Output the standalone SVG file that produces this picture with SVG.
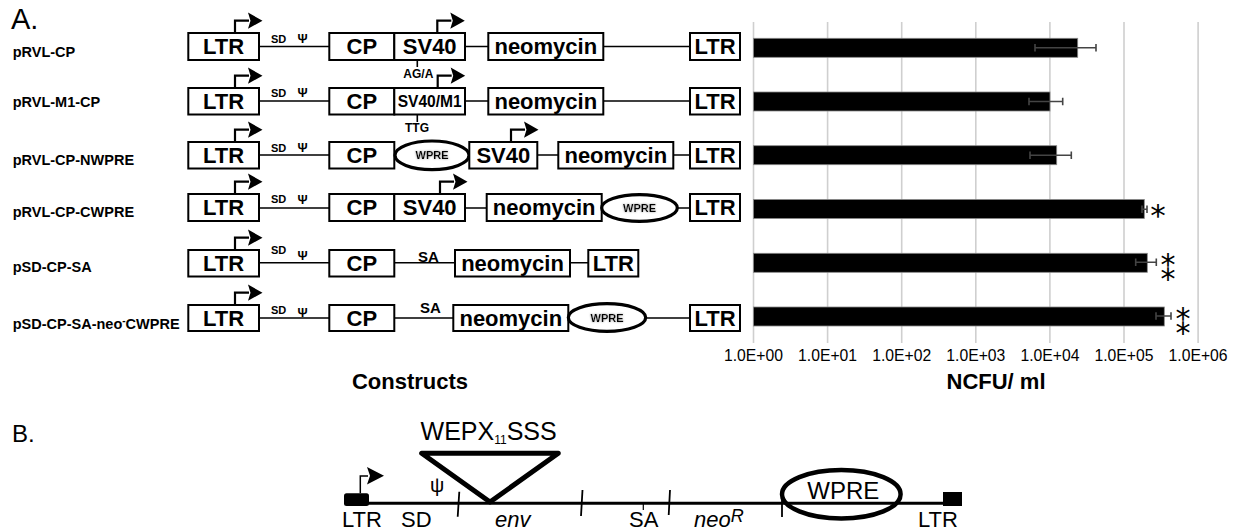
<svg xmlns="http://www.w3.org/2000/svg" width="1238" height="530" viewBox="0 0 1238 530">
<style>
text{font-family:"Liberation Sans",Arial,sans-serif;fill:#000}
.box{fill:#fff;stroke:#000;stroke-width:2}
.oval{fill:#fff;stroke:#000;stroke-width:3.2}
.ln{stroke:#000;stroke-width:1.6;fill:none}
.name{font-size:14.5px;font-weight:bold}
.el{font-size:22px;font-weight:bold;text-anchor:middle}
.el16{font-size:16px;font-weight:bold;text-anchor:middle}
.sm{font-size:11px;font-weight:bold}
.psi{font-size:12.5px;font-weight:bold}
.mut{font-size:12px;font-weight:bold}
.wp{font-size:11px;font-weight:bold;text-anchor:middle;filter:url(#halo)}
.grid{stroke:#cfcfcf;stroke-width:1.6}
.bar{fill:#000;stroke:#888;stroke-width:0.8}
.err{stroke:#444;stroke-width:1.6;fill:none}
.tick{font-size:17px;text-anchor:middle}
.ast{font-family:"DejaVu Sans",sans-serif;font-size:31px;text-anchor:middle}
.ast2{font-family:"DejaVu Sans",sans-serif;font-size:30px;text-anchor:middle}
.axis{font-size:22px;font-weight:bold;text-anchor:middle}
.b{font-size:22px}
.thick{stroke:#000;stroke-width:3;fill:none}
</style>
<defs>
<filter id="halo" x="-20%" y="-50%" width="140%" height="200%">
<feGaussianBlur in="SourceAlpha" stdDeviation="1.2" result="blur"/>
<feFlood flood-color="#999" result="c"/>
<feComposite in="c" in2="blur" operator="in" result="shadow"/>
<feMerge><feMergeNode in="shadow"/><feMergeNode in="SourceGraphic"/></feMerge>
</filter>
<g id="prom">
<path d="M0,0 V-12.3 H14" fill="none" stroke="#000" stroke-width="2.2"/>
<path d="M13,-20.5 L27.5,-12.3 L13,-4.3 L15.5,-12.3 Z" fill="#000"/>
</g>
</defs>

<!-- panel letters and axis titles -->
<text x="11" y="29.3" font-size="29">A.</text>
<text x="12" y="441.7" font-size="24">B.</text>
<text class="axis" x="410" y="389">Constructs</text>
<text class="axis" x="996" y="389">NCFU/ ml</text>

<!-- construct names -->
<g id="names">
<text class="name" x="12.7" y="57.3">pRVL-CP</text>
<text class="name" x="12.7" y="106.7">pRVL-M1-CP</text>
<text class="name" x="12.7" y="165">pRVL-CP-NWPRE</text>
<text class="name" x="12.7" y="216.7">pRVL-CP-CWPRE</text>
<text class="name" x="12.7" y="271.7">pSD-CP-SA</text>
<text class="name" x="12.7" y="328.5">pSD-CP-SA-neo<tspan font-size="10" dy="-5">-</tspan><tspan dy="5">CWPRE</tspan></text>
</g>

<!-- connectors between elements -->
<g id="connectors">
<path class="ln" d="M259,46.5 H329.3 M465,46.5 H488.3 M603.3,46.5 H690"/>
<path class="ln" d="M259,101 H329.3 M465,101 H488.3 M603.3,101 H690"/>
<path class="ln" d="M259,155 H329.3 M537.3,155 H558.3 M673.3,155 H690"/>
<path class="ln" d="M259,208 H329.3 M465,208 H486.7 M677.3,208 H690"/>
<path class="ln" d="M259,262.8 H329.3 M394.3,262.8 H455 M570,262.8 H588.3"/>
<path class="ln" d="M259,318 H329.3 M394.3,318 H453.3 M645.7,318 H690"/>
<path class="ln" d="M417.3,60 V67 M417.3,114.5 V122"/>
</g>

<!-- row 1: pRVL-CP -->
<g id="r1">
<g id="r1-ltr5"><rect class="box" x="188.3" y="33" width="70.7" height="27"/><text class="el" x="223.6" y="54.4">LTR</text><use href="#prom" x="235" y="33"/></g>
<text class="sm" x="271" y="42.7">SD</text><text class="psi" x="297.5" y="43">Ψ</text>
<g id="r1-cp"><rect class="box" x="329.3" y="33" width="65" height="27"/><text class="el" x="361.8" y="54.4">CP</text></g>
<g id="r1-sv40"><rect class="box" x="394.3" y="33" width="70.7" height="27"/><text class="el" x="429.7" y="54.4">SV40</text><use href="#prom" x="437.3" y="33"/></g>
<text class="mut" x="403.3" y="77.5">AG/A</text>
<g id="r1-neo"><rect class="box" x="488.3" y="33" width="115" height="27"/><text class="el" x="545.8" y="54.4">neomycin</text></g>
<g id="r1-ltr3"><rect class="box" x="690" y="33" width="50" height="27"/><text class="el" x="715" y="54.4">LTR</text></g>
</g>

<!-- row 2: pRVL-M1-CP -->
<g id="r2">
<g id="r2-ltr5"><rect class="box" x="188.3" y="88" width="70.7" height="26.5"/><text class="el" x="223.6" y="109.1">LTR</text><use href="#prom" x="235" y="88"/></g>
<text class="sm" x="271" y="96.7">SD</text><text class="psi" x="297.5" y="97">Ψ</text>
<g id="r2-cp"><rect class="box" x="329.3" y="88" width="65" height="26.5"/><text class="el" x="361.8" y="109.1">CP</text></g>
<g id="r2-sv40m1"><rect class="box" x="394.3" y="88" width="70.7" height="26.5"/><text class="el16" x="429.7" y="107" textLength="64" lengthAdjust="spacingAndGlyphs">SV40/M1</text><use href="#prom" x="437.7" y="88"/></g>
<text class="mut" x="405" y="132">TTG</text>
<g id="r2-neo"><rect class="box" x="488.3" y="88" width="115" height="26.5"/><text class="el" x="545.8" y="109.1">neomycin</text></g>
<g id="r2-ltr3"><rect class="box" x="690" y="88" width="50" height="26.5"/><text class="el" x="715" y="109.1">LTR</text></g>
</g>

<!-- row 3: pRVL-CP-NWPRE -->
<g id="r3">
<g id="r3-ltr5"><rect class="box" x="188.3" y="142" width="70.7" height="26.5"/><text class="el" x="223.6" y="163.1">LTR</text><use href="#prom" x="235" y="142"/></g>
<text class="sm" x="271" y="151.7">SD</text><text class="psi" x="297.5" y="152">Ψ</text>
<g id="r3-cp"><rect class="box" x="329.3" y="142" width="65" height="26.5"/><text class="el" x="361.8" y="163.1">CP</text></g>
<g id="r3-wpre"><ellipse class="oval" cx="432" cy="155.3" rx="37" ry="14.3"/><text class="wp" x="432" y="159.3">WPRE</text></g>
<g id="r3-sv40"><rect class="box" x="469.3" y="142" width="68" height="26.5"/><text class="el" x="503.3" y="163.1">SV40</text><use href="#prom" x="511" y="142"/></g>
<g id="r3-neo"><rect class="box" x="558.3" y="142" width="115" height="26.5"/><text class="el" x="615.8" y="163.1">neomycin</text></g>
<g id="r3-ltr3"><rect class="box" x="690" y="142" width="50" height="26.5"/><text class="el" x="715" y="163.1">LTR</text></g>
</g>

<!-- row 4: pRVL-CP-CWPRE -->
<g id="r4">
<g id="r4-ltr5"><rect class="box" x="188.3" y="194" width="70.7" height="27"/><text class="el" x="223.6" y="215.4">LTR</text><use href="#prom" x="235" y="194"/></g>
<text class="sm" x="271" y="203.3">SD</text><text class="psi" x="297.5" y="203.6">Ψ</text>
<g id="r4-cp"><rect class="box" x="329.3" y="194" width="65" height="27"/><text class="el" x="361.8" y="215.4">CP</text></g>
<g id="r4-sv40"><rect class="box" x="394.3" y="194" width="70.7" height="27"/><text class="el" x="429.7" y="215.4">SV40</text><use href="#prom" x="440" y="194"/></g>
<g id="r4-neo"><rect class="box" x="486.7" y="194" width="115" height="27"/><text class="el" x="544.2" y="215.4">neomycin</text></g>
<g id="r4-wpre"><ellipse class="oval" cx="639.5" cy="208" rx="37.8" ry="13.3"/><text class="wp" x="639.5" y="212">WPRE</text></g>
<g id="r4-ltr3"><rect class="box" x="690" y="194" width="50" height="27"/><text class="el" x="715" y="215.4">LTR</text></g>
</g>

<!-- row 5: pSD-CP-SA -->
<g id="r5">
<g id="r5-ltr5"><rect class="box" x="188.3" y="250" width="70.7" height="26.5"/><text class="el" x="223.6" y="271.1">LTR</text><use href="#prom" x="235" y="250"/></g>
<text class="sm" x="271" y="253.5">SD</text><text class="psi" x="297.5" y="260">Ψ</text>
<g id="r5-cp"><rect class="box" x="329.3" y="250" width="65" height="26.5"/><text class="el" x="361.8" y="271.1">CP</text></g>
<text x="418" y="261.5" font-size="15" font-weight="bold">SA</text>
<g id="r5-neo"><rect class="box" x="455" y="250" width="115" height="26.5"/><text class="el" x="512.5" y="271.1">neomycin</text></g>
<g id="r5-ltr3"><rect class="box" x="588.3" y="250" width="50" height="26.5"/><text class="el" x="613.3" y="271.1">LTR</text></g>
</g>

<!-- row 6: pSD-CP-SA-neo- CWPRE -->
<g id="r6">
<g id="r6-ltr5"><rect class="box" x="188.3" y="305" width="70.7" height="26"/><text class="el" x="223.6" y="325.9">LTR</text><use href="#prom" x="235" y="305"/></g>
<text class="sm" x="271" y="314">SD</text><text class="psi" x="297.5" y="316.5">Ψ</text>
<g id="r6-cp"><rect class="box" x="329.3" y="305" width="65" height="26"/><text class="el" x="361.8" y="325.9">CP</text></g>
<text x="420" y="313.3" font-size="15" font-weight="bold">SA</text>
<g id="r6-neo"><rect class="box" x="453.3" y="305" width="115" height="26"/><text class="el" x="510.8" y="325.9">neomycin</text></g>
<g id="r6-wpre"><ellipse class="oval" cx="607" cy="317.5" rx="38.7" ry="13.8"/><text class="wp" x="607" y="321.5">WPRE</text></g>
<g id="r6-ltr3"><rect class="box" x="690" y="305" width="50" height="26"/><text class="el" x="715" y="325.9">LTR</text></g>
</g>

<!-- titre chart (log scale, 74.1 px per decade) -->
<g id="chart">
<g id="gridlines">
<line class="grid" x1="753.5" y1="22" x2="753.5" y2="343"/>
<line class="grid" x1="827.6" y1="22" x2="827.6" y2="343"/>
<line class="grid" x1="901.7" y1="22" x2="901.7" y2="343"/>
<line class="grid" x1="975.8" y1="22" x2="975.8" y2="343"/>
<line class="grid" x1="1049.9" y1="22" x2="1049.9" y2="343"/>
<line class="grid" x1="1124" y1="22" x2="1124" y2="343"/>
<line class="grid" x1="1198.1" y1="22" x2="1198.1" y2="343"/>
</g>
<g id="bars">
<rect class="bar" x="753.5" y="38.3" width="324.2" height="19"/>
<rect class="bar" x="753.5" y="92" width="296.5" height="19"/>
<rect class="bar" x="753.5" y="145.7" width="303.2" height="19"/>
<rect class="bar" x="753.5" y="199.5" width="390.8" height="19"/>
<rect class="bar" x="753.5" y="253.3" width="393.8" height="19"/>
<rect class="bar" x="753.5" y="307" width="410.8" height="19"/>
</g>
<g id="errorbars">
<path class="err" d="M1035,47.7 H1096 M1035,44 V51.4 M1096,44 V51.4"/>
<path class="err" d="M1029,101.5 H1062.7 M1029,97.8 V105.2 M1062.7,97.8 V105.2"/>
<path class="err" d="M1030,155.3 H1071.3 M1030,151.6 V159 M1071.3,151.6 V159"/>
<path class="err" d="M1142,209.3 H1147 M1142,205.6 V213 M1147,205.6 V213"/>
<path class="err" d="M1135.7,262.3 H1156.3 M1135.7,258.6 V266 M1156.3,258.6 V266"/>
<path class="err" d="M1156,316 H1171 M1156,312.3 V319.7 M1171,312.3 V319.7"/>
</g>
<g id="significance">
<text class="ast" x="1158" y="226">*</text>
<text class="ast2" x="1168" y="281">⁑</text>
<text class="ast2" x="1183" y="334.7">⁑</text>
</g>
<g id="xticks">
<text class="tick" x="753.5" y="360.5" textLength="59" lengthAdjust="spacingAndGlyphs">1.0E+00</text>
<text class="tick" x="827.6" y="360.5" textLength="59" lengthAdjust="spacingAndGlyphs">1.0E+01</text>
<text class="tick" x="901.7" y="360.5" textLength="59" lengthAdjust="spacingAndGlyphs">1.0E+02</text>
<text class="tick" x="975.8" y="360.5" textLength="59" lengthAdjust="spacingAndGlyphs">1.0E+03</text>
<text class="tick" x="1049.9" y="360.5" textLength="59" lengthAdjust="spacingAndGlyphs">1.0E+04</text>
<text class="tick" x="1124" y="360.5" textLength="59" lengthAdjust="spacingAndGlyphs">1.0E+05</text>
<text class="tick" x="1198.1" y="360.5" textLength="59" lengthAdjust="spacingAndGlyphs">1.0E+06</text>
</g>
</g>

<!-- panel B: vector map -->
<g id="vector">
<path class="thick" d="M350,503.3 H955"/>
<g id="b-ltr5"><rect x="344" y="493.3" width="25" height="12.7" rx="2.5" fill="#000"/>
<path d="M360.3,493.3 V476 H368" fill="none" stroke="#000" stroke-width="1.5"/>
<path d="M367,467 L384,475.8 L367,484.5 L370,475.8 Z" fill="#000"/>
<text class="b" x="342" y="527">LTR</text></g>
<text class="b" x="401" y="527">SD</text>
<text x="430" y="492" font-size="20">ψ</text>
<g id="b-insert"><path d="M421.7,453.3 H558.3 L490,502 Z" fill="none" stroke="#000" stroke-width="5" stroke-linejoin="round"/>
<text x="420.6" y="440" font-size="25">WEPX<tspan font-size="12" dy="4">11</tspan><tspan dy="-4">SSS</tspan></text></g>
<path d="M459.3,491.7 L457.7,516.7 M582.5,490 L581,516 M670,490 L668.7,515 M782,500 V517" stroke="#000" stroke-width="1.8" fill="none"/>
<path d="M643.3,503 V510" stroke="#000" stroke-width="1.2"/>
<text class="b" x="495" y="527" font-style="italic">env</text>
<text class="b" x="629" y="527">SA</text>
<text class="b" x="694" y="527" font-style="italic">neo<tspan font-size="18" dy="-5">R</tspan></text>
<g id="b-wpre"><ellipse cx="841.3" cy="494.2" rx="59.3" ry="24.2" fill="none" stroke="#000" stroke-width="4.5"/>
<text x="843.3" y="499" font-size="24" text-anchor="middle">WPRE</text></g>
<g id="b-ltr3"><rect x="943" y="492" width="19" height="14" fill="#000"/>
<text class="b" x="918" y="527">LTR</text></g>
</g>
</svg>
